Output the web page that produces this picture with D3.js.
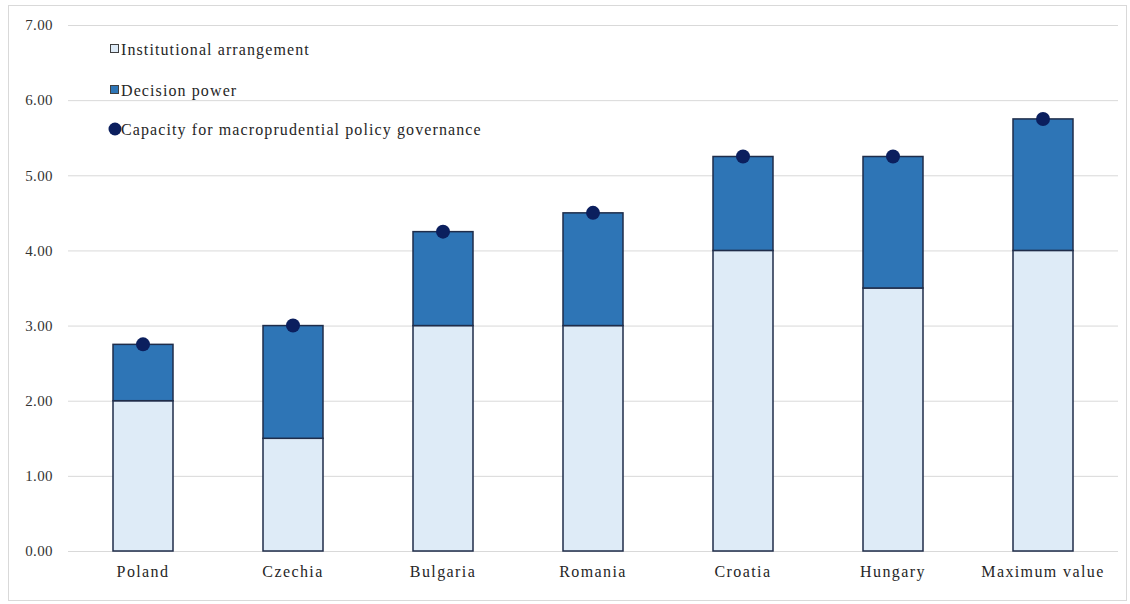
<!DOCTYPE html>
<html>
<head>
<meta charset="utf-8">
<script src="https://cdn.jsdelivr.net/npm/d3@7"></script>
<style>
  body { margin: 0; background: #fff; }
</style>
</head>
<body>
<div id="chart"></div>
<script>
var categories = ["Poland", "Czechia", "Bulgaria", "Romania", "Croatia", "Hungary", "Maximum value"];
var institutional = [2.00, 1.50, 3.00, 3.00, 4.00, 3.50, 4.00];
var decision = [0.75, 1.50, 1.25, 1.50, 1.25, 1.75, 1.75];
var capacity = [2.75, 3.00, 4.25, 4.50, 5.25, 5.25, 5.75];
var yTicks = [0, 1, 2, 3, 4, 5, 6, 7];
var legendLabels = ["Institutional arrangement", "Decision power", "Capacity for macroprudential policy governance"];

var FONT = "Liberation Serif";

var _width = 1130, _height = 604,
  _margins = {top: 25, left: 68, right: 12, bottom: 53};

var svg = d3.select("#chart").append("svg")
  .attr("width", _width)
  .attr("height", _height);

// outer frame
svg.append("rect")
  .attr("x", 8.5).attr("y", 5.5)
  .attr("width", _width - 12).attr("height", _height - 9)
  .attr("fill", "none")
  .attr("stroke", "#d9d9d9");

var x = d3.scaleBand()
  .domain(categories)
  .range([_margins.left, _width - _margins.right])
  .paddingInner(0.6)
  .paddingOuter(0.3);

var y = d3.scaleLinear()
  .domain([0, 7])
  .range([_height - _margins.bottom, _margins.top]);

// grid lines
svg.append("g").attr("class", "grid")
  .selectAll("line")
  .data(yTicks)
  .enter().append("line")
    .attr("x1", _margins.left)
    .attr("x2", _width - _margins.right)
    .attr("y1", function (d) { return y(d) + 0.5; })
    .attr("y2", function (d) { return y(d) + 0.5; })
    .attr("stroke", "#d9d9d9")
    .attr("stroke-width", 1);

// y labels
svg.append("g").selectAll("text")
  .data(yTicks)
  .enter().append("text")
    .attr("x", 53)
    .attr("y", function (d) { return y(d); })
    .attr("dy", "0.35em")
    .attr("text-anchor", "end")
    .attr("font-family", FONT)
    .attr("font-size", "15px")
    .attr("letter-spacing", "0.4px")
    .attr("fill", "#333")
    .text(function (d) { return d3.format(".2f")(d); });

// x labels
var xAxis = d3.axisBottom(x).tickSize(0).tickPadding(15);
var xg = svg.append("g")
  .attr("transform", "translate(0," + (_height - _margins.bottom) + ")")
  .call(xAxis);
xg.select(".domain").remove();
xg.attr("font-family", FONT).attr("font-size", "16px");
xg.selectAll("text")
  .attr("letter-spacing", "1.4px")
  .attr("fill", "#262626");

var bars = svg.append("g");
categories.forEach(function (c, i) {
  bars.append("rect")
    .attr("x", x(c))
    .attr("y", y(institutional[i]))
    .attr("width", x.bandwidth())
    .attr("height", y(0) - y(institutional[i]))
    .attr("fill", "#deebf7")
    .attr("stroke", "#1f2d4a")
    .attr("stroke-width", 1.5);
  bars.append("rect")
    .attr("x", x(c))
    .attr("y", y(institutional[i] + decision[i]))
    .attr("width", x.bandwidth())
    .attr("height", y(institutional[i]) - y(institutional[i] + decision[i]))
    .attr("fill", "#2e75b6")
    .attr("stroke", "#1f2d4a")
    .attr("stroke-width", 1.5);
});

svg.append("g").selectAll("circle")
  .data(capacity)
  .enter().append("circle")
    .attr("cx", function (d, i) { return x(categories[i]) + x.bandwidth() / 2; })
    .attr("cy", function (d) { return y(d); })
    .attr("r", 7)
    .attr("fill", "#0b1f5e");

// legend
var legend = svg.append("g");
var ly = [49, 90, 129];
legend.append("rect")
  .attr("x", 110.5).attr("y", ly[0] - 4.5)
  .attr("width", 8).attr("height", 8)
  .attr("fill", "#deebf7").attr("stroke", "#404040");
legend.append("rect")
  .attr("x", 110.5).attr("y", ly[1] - 4.5)
  .attr("width", 8).attr("height", 8)
  .attr("fill", "#2e75b6").attr("stroke", "#404040");
legend.append("circle")
  .attr("cx", 115).attr("cy", ly[2])
  .attr("r", 6.5)
  .attr("fill", "#0b1f5e");
legendLabels.forEach(function (t, i) {
  legend.append("text")
    .attr("x", 121)
    .attr("y", ly[i])
    .attr("dy", "0.35em")
    .attr("font-family", FONT)
    .attr("font-size", "16px")
    .attr("letter-spacing", "1.1px")
    .attr("fill", "#262626")
    .text(t);
});
</script>
</body>
</html>
